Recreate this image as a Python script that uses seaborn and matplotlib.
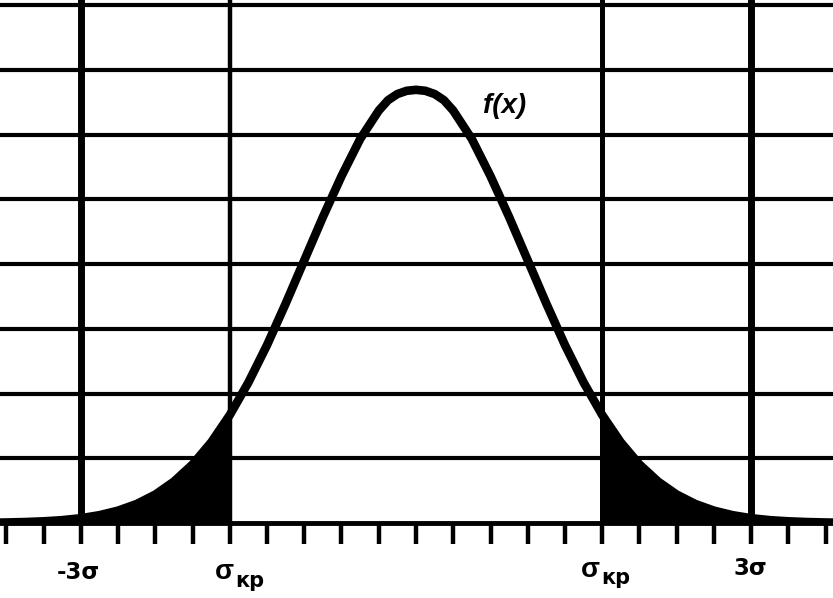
import matplotlib
matplotlib.use("Agg")
import matplotlib.pyplot as plt
import seaborn as sns
import pandas as pd

# ---- data (x in units of sigma, y in grid units) ----
x_sigma = [-3.833, -3.667, -3.5, -3.333, -3.167, -3.0, -2.833, -2.667, -2.5,
           -2.333, -2.167, -2.0, -1.833, -1.667, -1.5, -1.333, -1.167, -1.0,
           -0.833, -0.667, -0.5, -0.333, -0.25, -0.167, -0.083, 0.0,
           0.083, 0.167, 0.25, 0.333, 0.5, 0.667, 0.833, 1.0, 1.167, 1.333,
           1.5, 1.667, 1.833, 2.0, 2.167, 2.333, 2.5, 2.667, 2.833, 3.0,
           3.167, 3.333, 3.5, 3.667, 3.833]
f_vals = [0.004, 0.008, 0.015, 0.026, 0.044, 0.074, 0.121, 0.191, 0.294,
          0.440, 0.640, 0.905, 1.246, 1.668, 2.172, 2.750, 3.388, 4.058,
          4.728, 5.357, 5.930, 6.370, 6.530, 6.625, 6.675, 6.69,
          6.675, 6.625, 6.530, 6.370, 5.930, 5.357, 4.728, 4.058, 3.388, 2.750,
          2.172, 1.668, 1.246, 0.905, 0.640, 0.440, 0.294, 0.191, 0.121, 0.074,
          0.044, 0.026, 0.015, 0.008, 0.004]
tick_sigma = [-3.667, -3.333, -3.0, -2.667, -2.333, -2.0, -1.667, -1.333,
              -1.0, -0.667, -0.333, 0.0, 0.333, 0.667, 1.0, 1.333, 1.667,
              2.0, 2.333, 2.667, 3.0, 3.333, 3.667]
grid_levels = [1, 2, 3, 4, 5, 6, 7, 8]
sigma_crit = 1.667
vlines_sigma = [-3.0, -1.667, 1.667, 3.0]
vline_widths = [5.0, 3.2, 3.6, 5.0]
labels_main = ["-3σ", "3σ"]
crit_main = "σ"
crit_sub = "кр"
curve_label = "f(x)"

df = pd.DataFrame({"x": x_sigma, "f": f_vals})

sns.set_style("white")
plt.rcParams["font.family"] = ["DejaVu Sans"]

W, H = 833, 598
fig = plt.figure(figsize=(W / 100, H / 100), dpi=100)
base_px = 523
ax = fig.add_axes([0, (H - base_px) / H, 1, base_px / H])

px_per_sigma = 111.7
ax.set_xlim(-416 / px_per_sigma, 417 / px_per_sigma)
ax.set_ylim(0, 8 + 5 / 64.75)

# grid
ax.set_yticks(grid_levels)
ax.grid(axis="y", color="black", lw=3)
ax.grid(axis="x", visible=False)
ax.set_axisbelow(True)
for xv, lw in zip(vlines_sigma, vline_widths):
    ax.axvline(xv, color="black", lw=lw, zorder=1)

# shaded tails
left = df[df["x"] <= -sigma_crit + 0.001]
right = df[df["x"] >= sigma_crit - 0.001]
ax.fill_between(left["x"], left["f"], 0, color="black", lw=0, zorder=2)
ax.fill_between(right["x"], right["f"], 0, color="black", lw=0, zorder=2)

# curve
sns.lineplot(data=df, x="x", y="f", color="black", lw=6.2, ax=ax,
             zorder=3, sort=True, solid_joinstyle="round",
             solid_capstyle="round")
ax.set_xlabel("")
ax.set_ylabel("")

# axes styling
for s in ["top", "left", "right"]:
    ax.spines[s].set_visible(False)
ax.spines["bottom"].set_linewidth(3.5)
ax.spines["bottom"].set_color("black")
ax.set_xticks(tick_sigma)
ax.tick_params(axis="x", direction="out", length=15, width=3.2, color="black",
               labelbottom=False, bottom=True)
ax.tick_params(axis="y", length=0, labelleft=False, left=False)


def fx(px):
    return px / W


def fy(py):
    return (H - py) / H


fig.text(fx(78), fy(579), labels_main[0], ha="center", va="baseline",
         fontsize=16.5, fontweight="bold", color="black")
fig.text(fx(750), fy(575), labels_main[1], ha="center", va="baseline",
         fontsize=16.5, fontweight="bold", color="black")

for tick_px, base_s, base_k in [(234, 579, 587), (600, 577, 584)]:
    fig.text(fx(tick_px), fy(base_s), crit_main, ha="right", va="baseline",
             fontsize=20, fontweight="bold", family=["Liberation Sans"],
             color="black")
    fig.text(fx(tick_px + 1), fy(base_k), crit_sub, ha="left", va="baseline",
             fontsize=15, fontweight="bold", family=["DejaVu Sans"],
             color="black")

fig.text(fx(505), fy(106), curve_label, ha="center", va="center",
         fontsize=20, fontweight="bold", fontstyle="italic",
         family=["Liberation Sans"], color="black")

fig.savefig("out.png", dpi=100, facecolor="white")
